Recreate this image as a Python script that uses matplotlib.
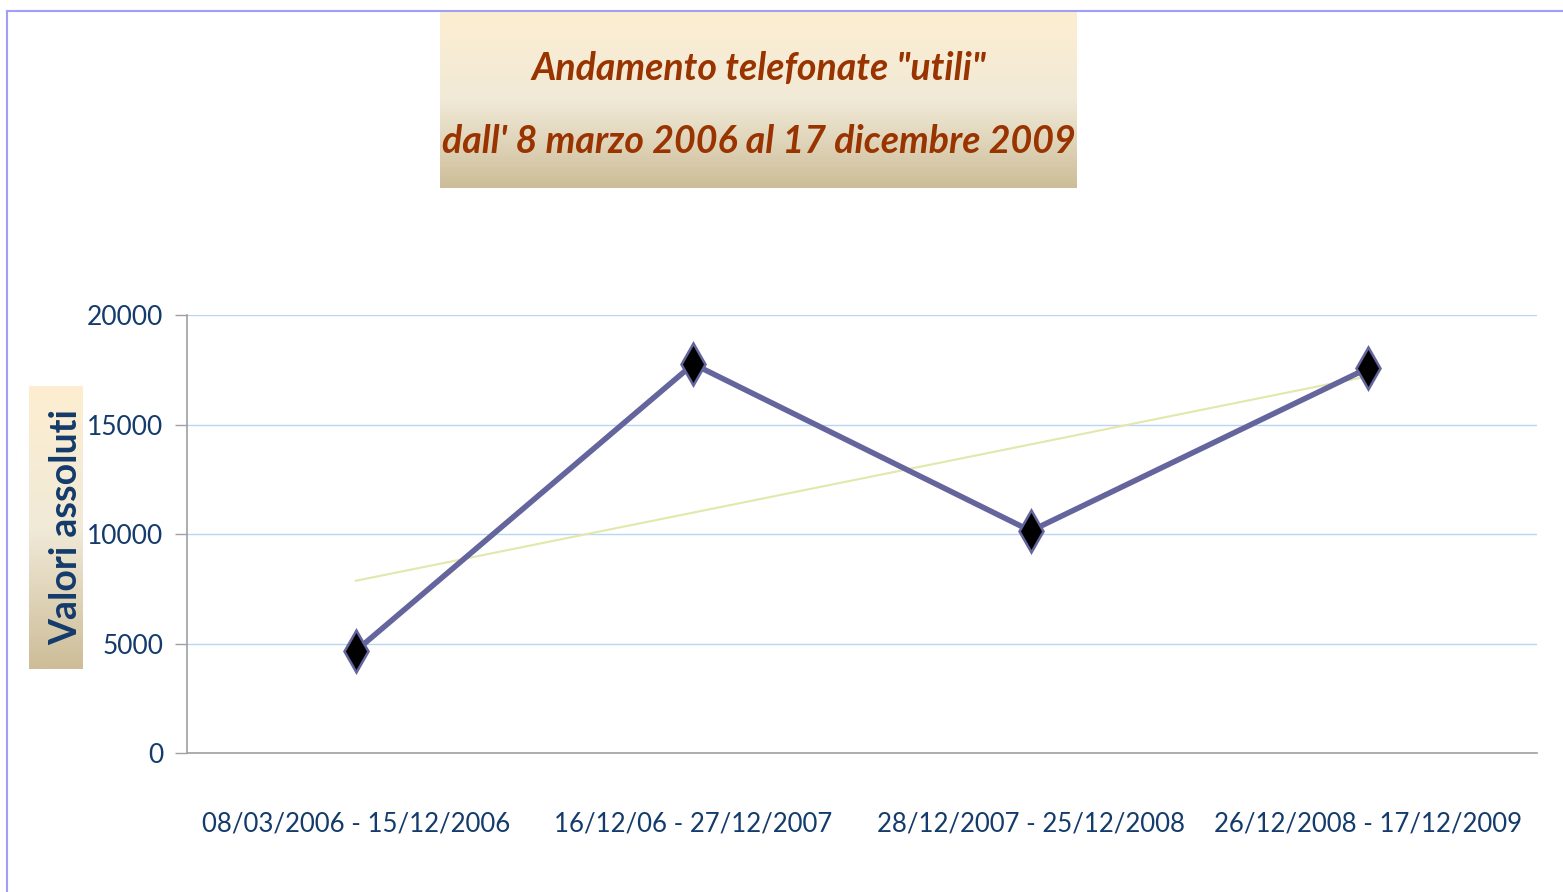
import numpy as np
import matplotlib.pyplot as plt
from matplotlib.colors import LinearSegmentedColormap
from matplotlib.lines import Line2D

periods = ['08/03/2006 - 15/12/2006', '16/12/06 - 27/12/2007',
           '28/12/2007 - 25/12/2008', '26/12/2008 - 17/12/2009']
calls = [4660, 17760, 10140, 17580]
yticks = [0, 5000, 10000, 15000, 20000]

title_lines = ['Andamento telefonate "utili"', "dall' 8 marzo 2006 al 17 dicembre 2009"]
ylabel = 'Valori assoluti'

W, H = 1563, 892
plt.rcParams['font.family'] = ['Lato', 'DejaVu Sans']

fig = plt.figure(figsize=(W / 100, H / 100), dpi=100)

def px(x0, y0, x1, y1):
    # pixel box (top-left origin) -> figure rect
    return [x0 / W, 1 - y1 / H, (x1 - x0) / W, (y1 - y0) / H]

# outer chart border (left + top only visible)
fig.add_artist(Line2D([7 / W, 7 / W], [0, 1 - 11 / H], color='#9f9ff5', lw=1.5))
fig.add_artist(Line2D([7 / W, 1], [1 - 11 / H, 1 - 11 / H], color='#9f9ff5', lw=1.5))

grad = LinearSegmentedColormap.from_list('g', ['#fdeed0', '#f1ead8', '#cdbd98'])
g = np.linspace(0, 1, 256).reshape(-1, 1)

# title box
tax = fig.add_axes(px(440, 12, 1077, 188))
tax.imshow(g, aspect='auto', cmap=grad, extent=[0, 1, 0, 1])
tax.set_axis_off()
tax.text(0.5, 0.68, title_lines[0], ha='center', va='center', fontsize=27,
         fontweight='bold', style='italic', color='#993300', transform=tax.transAxes)
tax.text(0.5, 0.265, title_lines[1], ha='center', va='center', fontsize=27,
         fontweight='bold', style='italic', color='#993300', transform=tax.transAxes)

# y label box
lax = fig.add_axes(px(29, 386, 83, 669))
lax.imshow(g, aspect='auto', cmap=grad, extent=[0, 1, 0, 1])
lax.set_axis_off()
lax.text(0.68, 0.5, ylabel, rotation=90, ha='center', va='center', fontsize=27,
         fontweight='bold', color='#133b6b', transform=lax.transAxes)

# main plot
ax = fig.add_axes(px(187, 315, 1537, 753))
x = np.arange(len(periods))
ax.set_xlim(-0.5, len(periods) - 0.5)
ax.set_ylim(0, 20000)
ax.set_yticks(yticks)
ax.set_yticklabels([str(v) for v in yticks])
ax.yaxis.grid(True, color='#b8d6f5', lw=1)
ax.set_axisbelow(True)
ax.set_xticks(x)
ax.set_xticklabels(periods)
ax.tick_params(axis='x', length=0, pad=58, labelsize=18.5, labelcolor='#133b6b')
ax.tick_params(axis='y', length=9, width=1, color='#a0a0a0', pad=8,
               labelsize=19, labelcolor='#133b6b')
for lbl in ax.get_xticklabels():
    lbl.set_y(0.05)
for s in ['top', 'right']:
    ax.spines[s].set_visible(False)
for s in ['left', 'bottom']:
    ax.spines[s].set_color('#a0a0a0')
    ax.spines[s].set_linewidth(1.2)

# linear trendline
k, b = np.polyfit(x, calls, 1)
ax.plot(x, k * x + b, color='#e2e8ac', lw=1.5, zorder=2)

ax.plot(x, calls, color='#65659e', lw=4, marker='d', markersize=21,
        markerfacecolor='black', markeredgecolor='#65659e', markeredgewidth=1.8,
        zorder=3, clip_on=False)

fig.savefig('out.png', dpi=100)
